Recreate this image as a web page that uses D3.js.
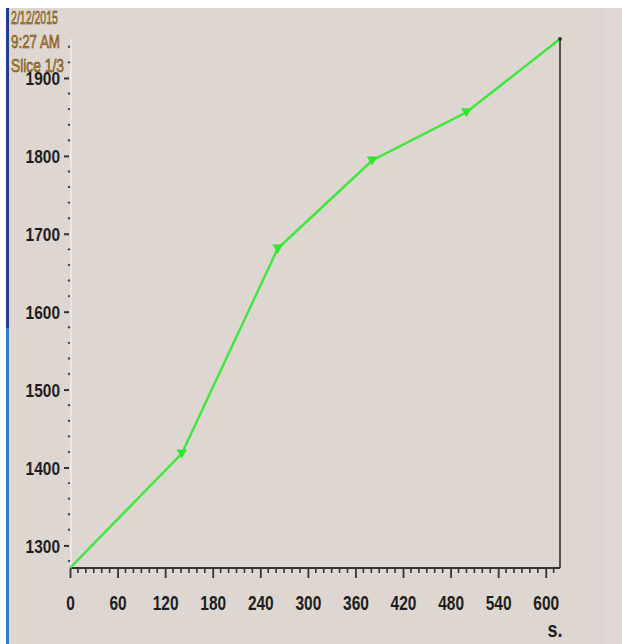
<!DOCTYPE html>
<html>
<head>
<meta charset="utf-8">
<script src="https://cdn.jsdelivr.net/npm/d3@7/dist/d3.min.js"></script>
<style>
  html, body { margin: 0; padding: 0; background: #ffffff; }
  svg { display: block; }
</style>
</head>
<body>
<script>
// Elapsed time (s) and measured value at each sample
const times = [0, 141, 262, 381, 500, 618];
const values = [1271, 1418, 1681, 1794, 1856, 1950];
const yTicks = [1300, 1400, 1500, 1600, 1700, 1800, 1900];
const xTicks = [0, 60, 120, 180, 240, 300, 360, 420, 480, 540, 600];
const headerLines = ["2/12/2015", "9:27 AM", "Slice 1/3"];
const xUnit = "s.";

const W = 622, H = 644;
const svg = d3.select("body").append("svg").attr("width", W).attr("height", H);

// panel background and frame strips
svg.append("rect").attr("x", 0).attr("y", 0).attr("width", W).attr("height", H).attr("fill", "#ffffff");
svg.append("rect").attr("x", 6).attr("y", 8).attr("width", W - 6).attr("height", H - 8).attr("fill", "#ddd6d1");
svg.append("rect").attr("x", 605).attr("y", 8).attr("width", 17).attr("height", H - 8).attr("fill", "#e0d8d6");
svg.append("rect").attr("x", 6).attr("y", 8).attr("width", 3).attr("height", 320).attr("fill", "#1d3f86");
svg.append("rect").attr("x", 6).attr("y", 328).attr("width", 3).attr("height", H - 328).attr("fill", "#3a78d0");

const x = d3.scaleLinear().domain([0, 618]).range([70, 560]);
const y = d3.scaleLinear().domain([1271, 1950]).range([568, 39]);

// tall, narrow bold digits: regular font squeezed to a fixed width per character
const font = "'Liberation Sans', Arial, sans-serif";
const charW = 8.6;
function condense(sel, size, perChar) {
  sel.attr("font-family", font).attr("font-weight", "bold").attr("font-size", size)
    .attr("fill", "#1e1e1e")
    .attr("lengthAdjust", "spacingAndGlyphs")
    .attr("textLength", function () { return this.textContent.length * perChar; });
}

// right border of the plot
svg.append("line")
  .attr("x1", x(618)).attr("x2", x(618)).attr("y1", y(1950)).attr("y2", y(1271))
  .attr("stroke", "#555050").attr("stroke-width", 2);

// left axis: faint light line with dotted minor ticks
svg.append("line")
  .attr("x1", x(0) + 1).attr("x2", x(0) + 1).attr("y1", y(1950)).attr("y2", y(1271))
  .attr("stroke", "#f4f0ee").attr("stroke-width", 1.2);

const yMinor = d3.range(1280, 1950, 20).filter(v => v % 100 !== 0);
svg.append("g").selectAll("circle").data(yMinor).join("circle")
  .attr("cx", x(0) - 1).attr("cy", d => y(d)).attr("r", 1.2)
  .attr("fill", "#4a4a4a");

const yAxis = d3.axisLeft(y).tickValues(yTicks).tickSize(5).tickPadding(4).tickFormat(d3.format("d"));
const gy = svg.append("g").attr("transform", `translate(${x(0) - 1},0)`).call(yAxis);
gy.select(".domain").remove();
gy.selectAll(".tick line").attr("stroke", "#333").attr("stroke-width", 2);
gy.selectAll(".tick text").call(condense, 19, charW).attr("dy", "0.36em");

// bottom axis with 10 s minor ticks
const xMinor = d3.range(0, 619, 10).filter(v => v % 60 !== 0);
svg.append("g").selectAll("line").data(xMinor).join("line")
  .attr("x1", d => x(d)).attr("x2", d => x(d))
  .attr("y1", y(1271)).attr("y2", y(1271) + 5)
  .attr("stroke", "#333").attr("stroke-width", 1.6);

const xAxis = d3.axisBottom(x).tickValues(xTicks).tickSize(10).tickPadding(18).tickFormat(d3.format("d"));
const gx = svg.append("g").attr("transform", `translate(0,${y(1271)})`).call(xAxis);
gx.select(".domain").remove();
gx.selectAll(".tick line").attr("stroke", "#333").attr("stroke-width", 1.8);
gx.selectAll(".tick text").call(condense, 20, charW);

svg.append("line")
  .attr("x1", x(0)).attr("x2", x(618)).attr("y1", y(1271)).attr("y2", y(1271))
  .attr("stroke", "#333").attr("stroke-width", 2.2);

svg.append("text")
  .attr("x", 555).attr("y", 637).attr("text-anchor", "middle")
  .text(xUnit).call(condense, 22, 7.5);

// data series
const pts = times.map((t, i) => [t, values[i]]);
svg.append("path")
  .datum(pts)
  .attr("fill", "none").attr("stroke", "#3de83a").attr("stroke-width", 2.4)
  .attr("d", d3.line().x(d => x(d[0])).y(d => y(d[1])));

svg.append("g").selectAll("path").data(pts.slice(1, 5)).join("path")
  .attr("d", d3.symbol().type(d3.symbolTriangle).size(48))
  .attr("transform", d => `translate(${x(d[0])},${y(d[1]) - 1}) rotate(180)`)
  .attr("fill", "#2fe82c");

svg.append("circle").attr("cx", x(618)).attr("cy", y(1950)).attr("r", 2).attr("fill", "#333");

// header lines in the top-left corner
const headerWidths = [47, 49, 53];
svg.append("g").selectAll("text").data(headerLines).join("text")
  .attr("x", 11).attr("y", (d, i) => 24 + i * 24)
  .attr("font-family", font).attr("font-size", 18)
  .attr("fill", "#c8922a").attr("stroke", "#4a3010").attr("stroke-width", 0.5)
  .attr("lengthAdjust", "spacingAndGlyphs")
  .attr("textLength", (d, i) => headerWidths[i])
  .text(d => d);
</script>
</body>
</html>
